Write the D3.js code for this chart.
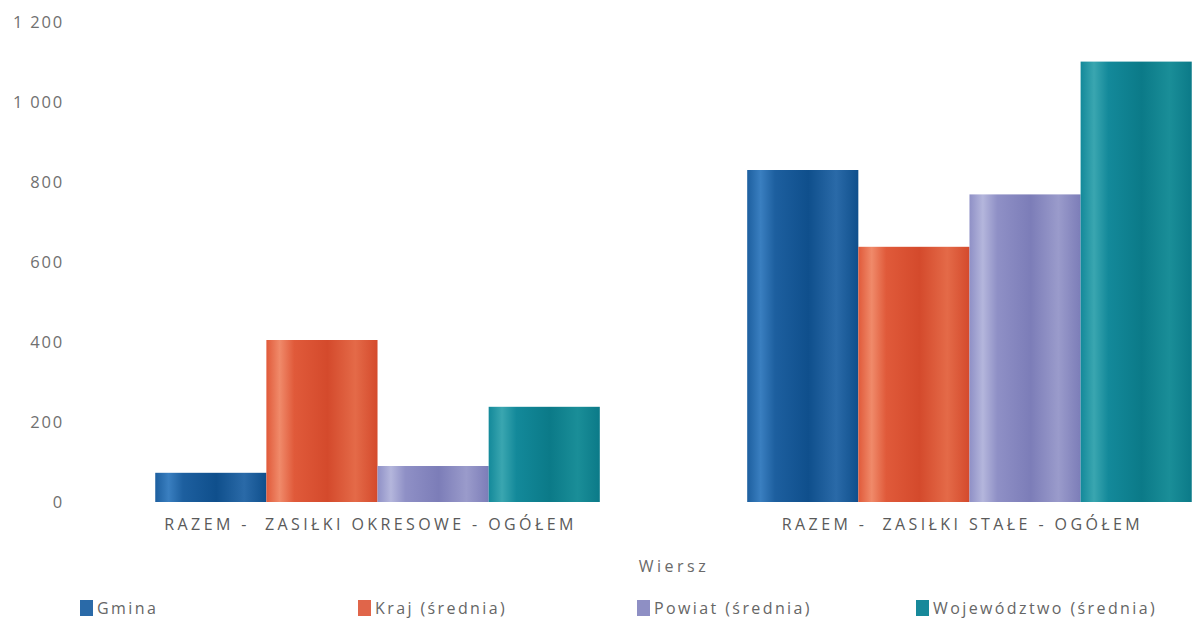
<!DOCTYPE html>
<html><head><meta charset="utf-8">
<script src="https://cdn.jsdelivr.net/npm/d3@7"></script>
<style>
html,body{margin:0;padding:0;background:#fff;}
svg{display:block;font-family:"Open Sans",sans-serif;}
</style></head>
<body><svg id="c" width="1194" height="620"></svg>
<script>
const categories = ["RAZEM -  ZASIŁKI OKRESOWE - OGÓŁEM", "RAZEM -  ZASIŁKI STAŁE - OGÓŁEM"];
const seriesNames = ["Gmina", "Kraj (średnia)", "Powiat (średnia)", "Województwo (średnia)"];
const gmina = [73, 830];
const kraj = [405, 638];
const powiat = [90, 769];
const wojewodztwo = [238, 1101];
const yTicks = [0, 200, 400, 600, 800, 1000, 1200];
const axisTitle = "Wiersz";

const seriesValues = [gmina, kraj, powiat, wojewodztwo];
const colors = [
  ["#3a7fc0","#1d5f9f","#0f4f8c","#2a6aa8"],
  ["#f08a6a","#e05a3a","#d44a2c","#e46a48"],
  ["#b4b6dc","#8f90c6","#7c7db8","#9a9bcb"],
  ["#3aa6b0","#13899a","#0b7a88","#1a8e98"]
];
const swatch = ["#2a6aa8","#e0654a","#8e8fc4","#17899a"];

const svg = d3.select("#c");
const defs = svg.append("defs");
colors.forEach((c,i)=>{
  const g = defs.append("linearGradient").attr("id","g"+i).attr("x1","0%").attr("x2","100%").attr("y1","0%").attr("y2","0%");
  [[0,c[1]],[0.12,c[0]],[0.25,c[1]],[0.55,c[2]],[0.8,c[3]],[1,c[2]]].forEach(s=>g.append("stop").attr("offset",s[0]).attr("stop-color",s[1]));
});

const y = d3.scaleLinear().domain([0,1200]).range([502,22]);
const x0 = d3.scaleBand().domain(categories).range([81.25,1265.75]).paddingInner(0.249).paddingOuter(0.125);
const x1 = d3.scaleBand().domain(seriesNames).range([0,x0.bandwidth()]).padding(0);

// y axis labels
const yAxis = d3.axisLeft(y).tickValues(yTicks).tickSize(0).tickPadding(0)
  .tickFormat(d=>d3.format(",")(d).replace(/,/g," "));
const ya = svg.append("g").attr("transform","translate(64,0)").call(yAxis);
ya.select(".domain").remove();
ya.selectAll("text").attr("font-size",16.5).attr("fill","#707070").attr("font-family","Open Sans, sans-serif").attr("letter-spacing","1.8");

// bars
const groups = svg.append("g").selectAll("g").data(categories).join("g")
  .attr("transform",d=>`translate(${x0(d)},0)`);
groups.selectAll("rect").data((d,ci)=>seriesNames.map((s,si)=>({s,si,v:seriesValues[si][ci]})))
  .join("rect")
  .attr("x",d=>x1(d.s)).attr("width",x1.bandwidth())
  .attr("y",d=>y(d.v)).attr("height",d=>y(0)-y(d.v))
  .attr("fill",d=>`url(#g${d.si})`);

// category labels
svg.append("g").selectAll("text").data(categories).join("text")
  .attr("x",d=>x0(d)+x0.bandwidth()/2-7).attr("y",530)
  .attr("text-anchor","middle").attr("font-size",16).attr("fill","#5a5a5a")
  .attr("letter-spacing","3.4").style("white-space","pre")
  .text(d=>d);

// axis title
svg.append("text").attr("x",674).attr("y",572).attr("text-anchor","middle")
  .attr("font-size",16).attr("fill","#6a6a6a").attr("letter-spacing","3.5").text(axisTitle);

// legend
const legendX = [80,358,637,916];
const lg = svg.append("g").selectAll("g").data(seriesNames).join("g")
  .attr("transform",(d,i)=>`translate(${legendX[i]},600)`);
lg.append("rect").attr("width",13).attr("height",16).attr("fill",(d,i)=>swatch[i]);
lg.append("text").attr("x",17).attr("y",14).attr("font-size",16).attr("fill","#666")
  .attr("letter-spacing","2.4").text(d=>d);
</script></body></html>
